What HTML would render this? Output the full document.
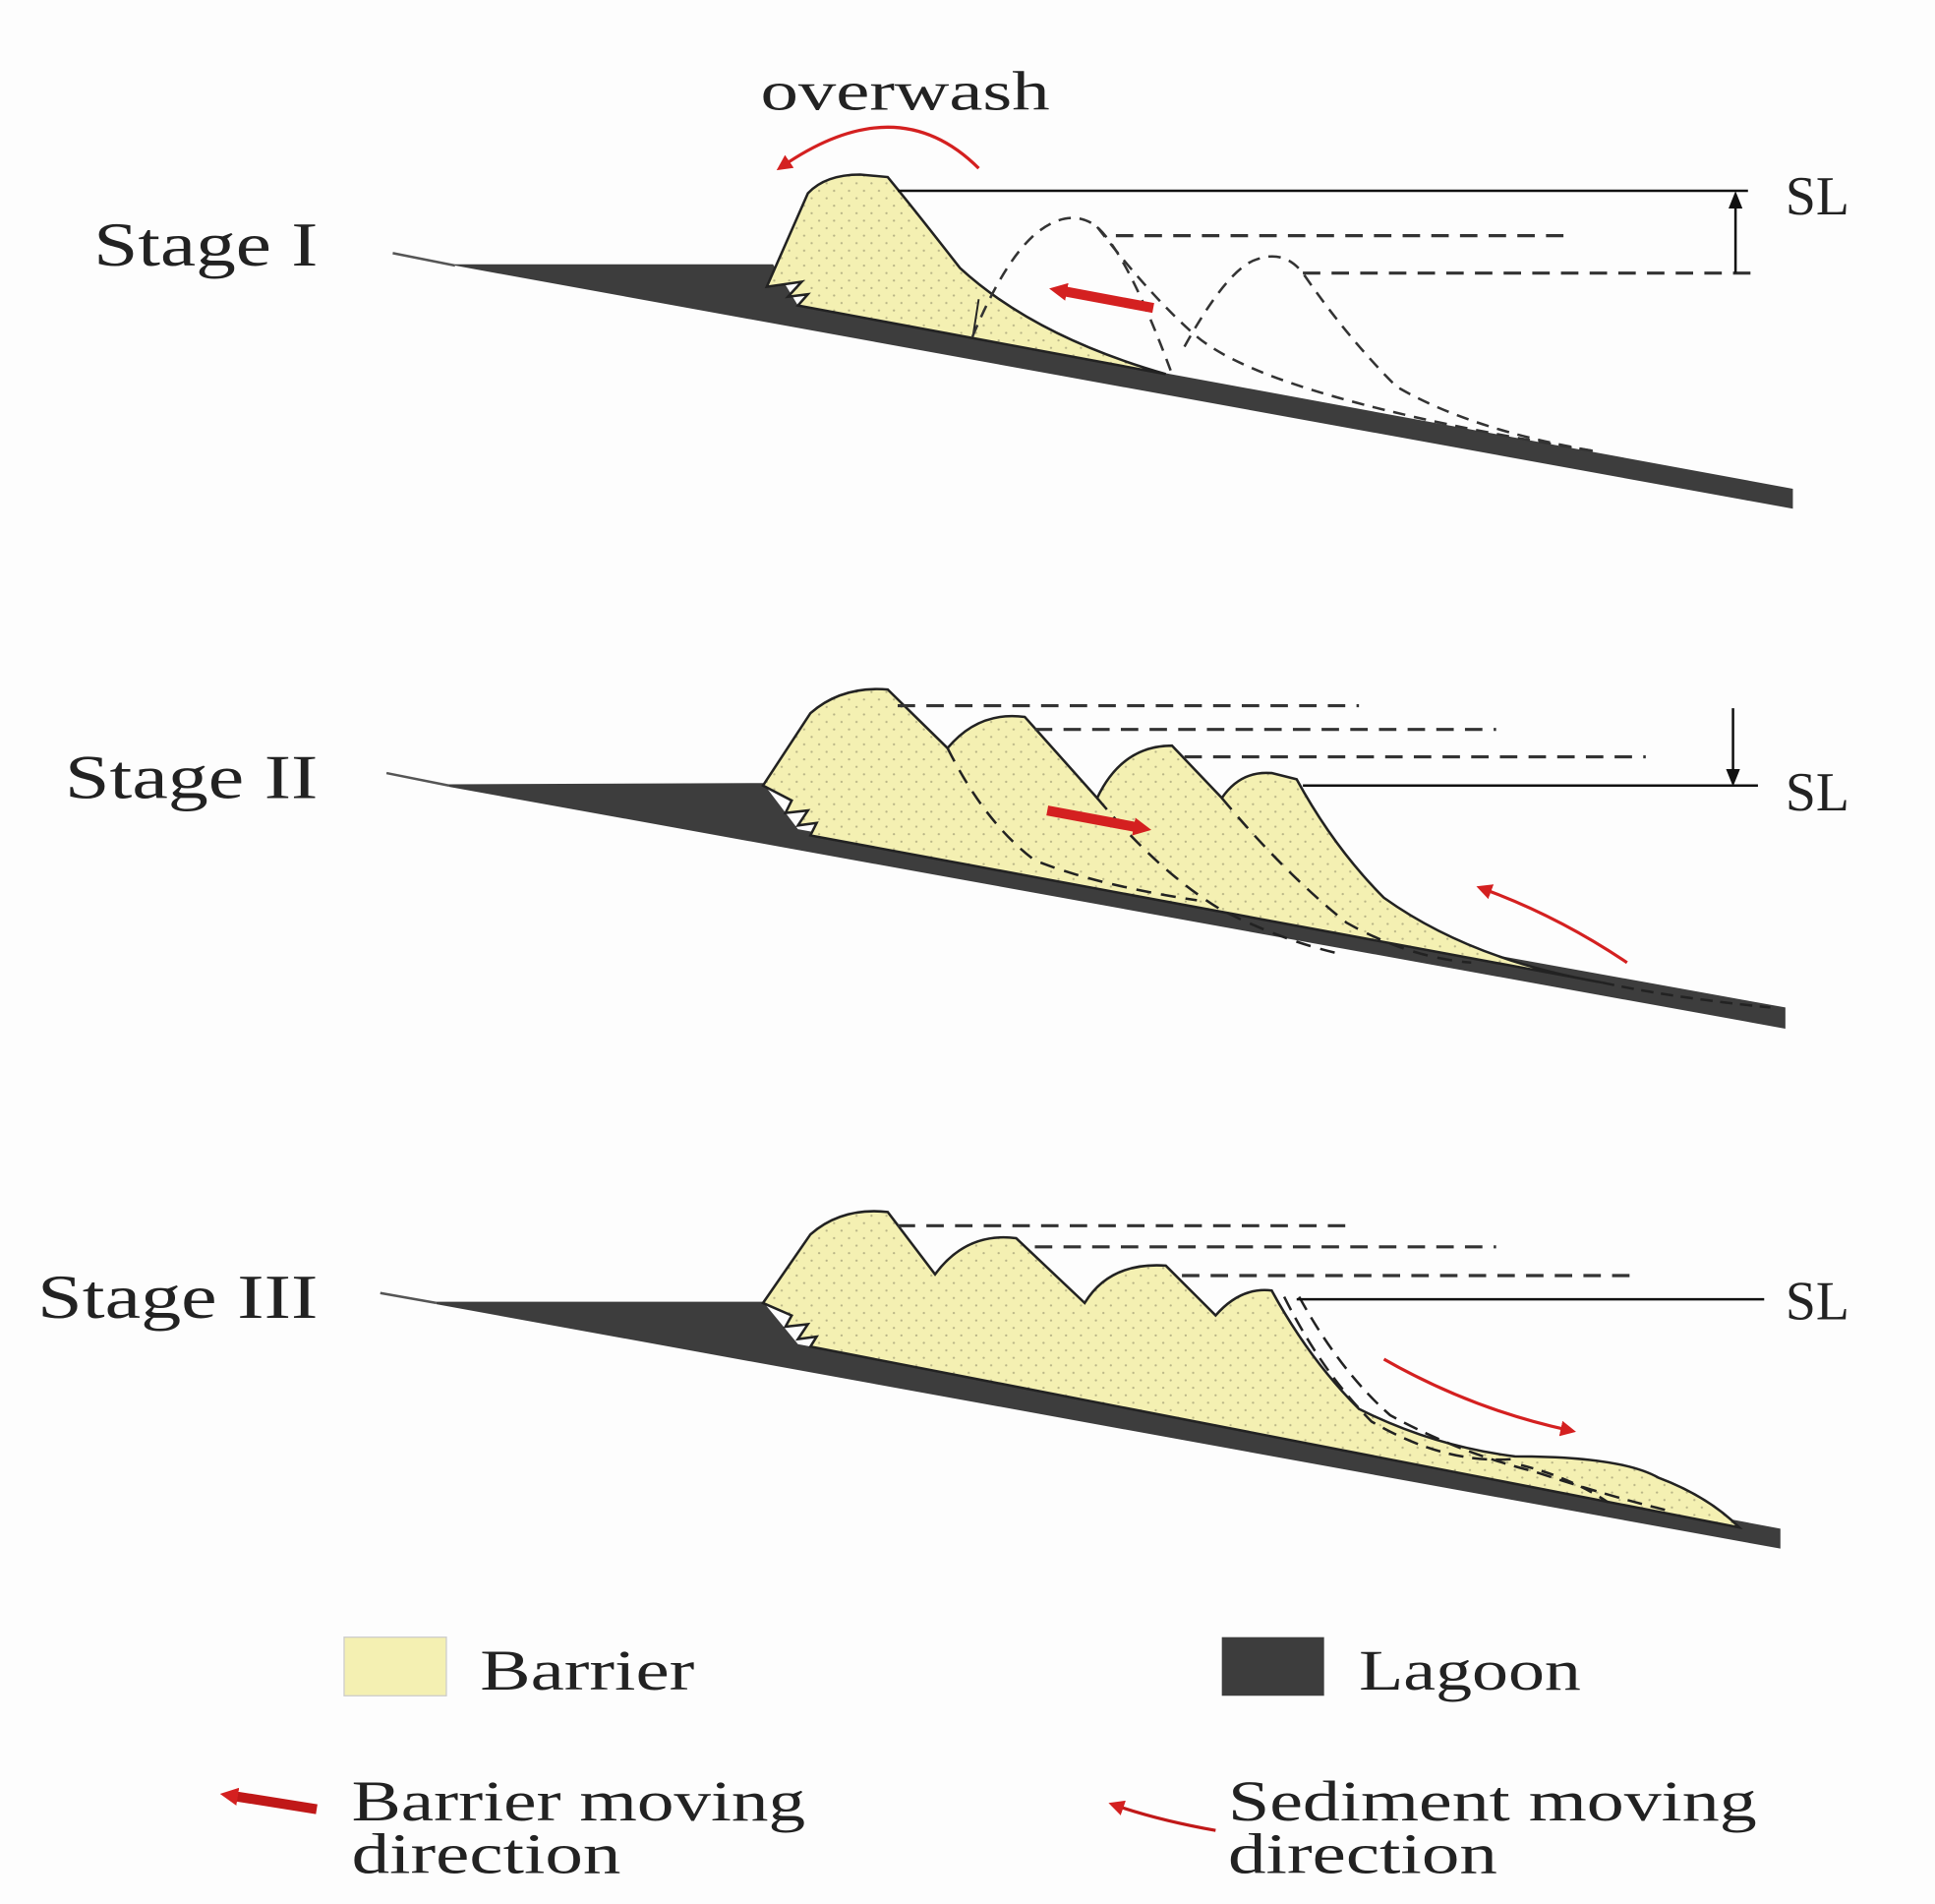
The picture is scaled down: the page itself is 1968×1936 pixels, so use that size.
<!DOCTYPE html>
<html><head><meta charset="utf-8"><style>html,body{margin:0;padding:0;background:#fdfdfd}svg{display:block}</style></head>
<body>
<svg width="1968" height="1936" viewBox="0 0 1552 1527" preserveAspectRatio="none" xmlns="http://www.w3.org/2000/svg" font-family="'Liberation Serif', serif" fill="#222">
<defs>
<pattern id="dots" width="12" height="12" patternUnits="userSpaceOnUse">
<rect width="12" height="12" fill="#f4f0b2"/><circle cx="3" cy="3" r="0.9" fill="#b8b486"/><circle cx="9" cy="9" r="0.9" fill="#b8b486"/>
</pattern>
<marker id="rh" viewBox="0 0 10 10" refX="5" refY="5" markerWidth="5" markerHeight="5" orient="auto-start-reverse"><path d="M0,0L10,5L0,10z" fill="#d42020"/></marker>
<marker id="rt" viewBox="0 0 10 10" refX="4" refY="5" markerWidth="1.8" markerHeight="1.8" orient="auto"><path d="M0,0L10,5L0,10z" fill="#d42020"/></marker>
<marker id="bh" viewBox="0 0 10 10" refX="8" refY="5" markerWidth="7" markerHeight="7" orient="auto"><path d="M0,1L10,5L0,9z" fill="#111"/></marker>
</defs>
<rect width="1552" height="1527" fill="#fdfdfd"/>

<!-- STAGE I -->
<text x="75" y="213" font-size="50" textLength="180" lengthAdjust="spacingAndGlyphs">Stage I</text>
<text x="610" y="88" font-size="44" textLength="232" lengthAdjust="spacingAndGlyphs">overwash</text>
<line x1="315" y1="203" x2="365" y2="213" stroke="#555" stroke-width="2"/>
<polygon points="365,212 620,212 640,245 1438,392 1438,408 365,213" fill="#3d3d3d"/>
<path d="M615,230 L648,155 Q662,140 690,140 L712,142 Q735,170 770,215 Q830,270 935,300 L640,245 L648,236 L632,238 L643,226 L615,230Z" fill="url(#dots)" stroke="#222" stroke-width="2"/>
<line x1="785" y1="240" x2="780" y2="272" stroke="#222" stroke-width="1.5"/>
<line x1="720" y1="153" x2="1402" y2="153" stroke="#111" stroke-width="2"/>
<text x="1432" y="172" font-size="44">SL</text>
<line x1="895" y1="189" x2="1255" y2="189" stroke="#333" stroke-width="2.5" stroke-dasharray="14,9"/>
<line x1="1045" y1="219" x2="1410" y2="219" stroke="#333" stroke-width="2.5" stroke-dasharray="14,9"/>
<line x1="1392" y1="219" x2="1392" y2="156" stroke="#111" stroke-width="2" marker-end="url(#bh)"/>
<path d="M780,270 Q805,210 830,188 Q858,165 880,182 Q905,205 940,300" fill="none" stroke="#333" stroke-width="2" stroke-dasharray="10,7"/>
<path d="M880,182 Q925,240 960,270 Q1020,320 1280,362" fill="none" stroke="#333" stroke-width="2" stroke-dasharray="10,7"/>
<path d="M950,278 Q985,215 1008,208 Q1030,200 1045,219 Q1080,270 1120,310 Q1180,345 1280,362" fill="none" stroke="#333" stroke-width="2" stroke-dasharray="10,7"/>
<line x1="925" y1="247" x2="850" y2="233" stroke="#d42020" stroke-width="8" marker-end="url(#rt)"/>
<path d="M785,135 Q720,70 628,133" fill="none" stroke="#d42020" stroke-width="2.5" marker-end="url(#rh)"/>

<!-- STAGE II -->
<text x="52" y="640" font-size="50" textLength="203" lengthAdjust="spacingAndGlyphs">Stage II</text>
<line x1="310" y1="620" x2="360" y2="630" stroke="#555" stroke-width="2"/>
<polygon points="360,629 612,628 640,665 1432,808 1432,825 360,631" fill="#3d3d3d"/>
<path d="M612,630 L650,572 Q675,550 712,553 L760,600 Q785,570 822,575 L880,640 Q900,598 940,598 L980,640 Q995,618 1020,620 L1040,625 Q1070,680 1110,720 Q1180,770 1285,788 L650,670 L655,660 L640,662 L648,650 L630,652 L635,642 Z" fill="url(#dots)" stroke="#222" stroke-width="2"/>
<path d="M760,600 Q790,660 830,690 Q880,710 960,722" fill="none" stroke="#222" stroke-width="2" stroke-dasharray="12,8"/>
<path d="M880,640 Q930,700 980,730 Q1030,755 1075,765" fill="none" stroke="#222" stroke-width="2" stroke-dasharray="12,8"/>
<path d="M980,640 Q1030,700 1080,740 Q1130,768 1180,772" fill="none" stroke="#222" stroke-width="2" stroke-dasharray="12,8"/>
<path d="M1285,788 Q1340,800 1420,808" fill="none" stroke="#222" stroke-width="2" stroke-dasharray="10,6"/>
<line x1="720" y1="566" x2="1090" y2="566" stroke="#333" stroke-width="2.5" stroke-dasharray="14,9"/>
<line x1="830" y1="585" x2="1200" y2="585" stroke="#333" stroke-width="2.5" stroke-dasharray="14,9"/>
<line x1="950" y1="607" x2="1320" y2="607" stroke="#333" stroke-width="2.5" stroke-dasharray="14,9"/>
<line x1="1045" y1="630" x2="1410" y2="630" stroke="#111" stroke-width="2"/>
<text x="1432" y="650" font-size="44">SL</text>
<line x1="1390" y1="568" x2="1390" y2="628" stroke="#111" stroke-width="2" marker-end="url(#bh)"/>
<line x1="840" y1="650" x2="915" y2="664" stroke="#d42020" stroke-width="8" marker-end="url(#rt)"/>
<path d="M1305,772 Q1250,735 1190,713" fill="none" stroke="#d42020" stroke-width="2.5" marker-end="url(#rh)"/>

<!-- STAGE III -->
<text x="30" y="1057" font-size="50" textLength="225" lengthAdjust="spacingAndGlyphs">Stage III</text>
<line x1="305" y1="1037" x2="350" y2="1045" stroke="#555" stroke-width="2"/>
<polygon points="350,1044 612,1044 640,1078 1428,1226 1428,1242 350,1046" fill="#3d3d3d"/>
<path d="M612,1045 L650,990 Q675,968 712,972 L750,1022 Q775,988 815,993 L870,1045 Q890,1012 935,1015 L975,1055 Q995,1032 1020,1035 Q1050,1090 1090,1130 Q1150,1160 1215,1168 Q1300,1168 1330,1185 Q1370,1200 1395,1225 L650,1080 L655,1072 L640,1074 L648,1062 L630,1064 L635,1055 Z" fill="url(#dots)" stroke="#222" stroke-width="2"/>
<path d="M1030,1040 Q1060,1100 1100,1140 Q1160,1175 1215,1170" fill="none" stroke="#222" stroke-width="2" stroke-dasharray="12,7"/>
<path d="M1042,1040 Q1075,1100 1115,1135 Q1170,1165 1230,1180 Q1290,1200 1340,1212" fill="none" stroke="#222" stroke-width="2" stroke-dasharray="12,7"/>
<path d="M1220,1175 Q1260,1185 1290,1205" fill="none" stroke="#222" stroke-width="2" stroke-dasharray="10,7"/>
<line x1="720" y1="983" x2="1085" y2="983" stroke="#333" stroke-width="2.5" stroke-dasharray="14,9"/>
<line x1="830" y1="1000" x2="1200" y2="1000" stroke="#333" stroke-width="2.5" stroke-dasharray="14,9"/>
<line x1="948" y1="1023" x2="1315" y2="1023" stroke="#333" stroke-width="2.5" stroke-dasharray="14,9"/>
<line x1="1040" y1="1042" x2="1415" y2="1042" stroke="#111" stroke-width="2"/>
<text x="1432" y="1058" font-size="44">SL</text>
<path d="M1110,1090 Q1180,1130 1258,1147" fill="none" stroke="#d42020" stroke-width="2.5" marker-end="url(#rh)"/>

<!-- LEGEND -->
<rect x="276" y="1313" width="82" height="47" fill="#f4f0b2" stroke="#ccc" stroke-width="1"/>
<text x="385" y="1355" font-size="46" textLength="172" lengthAdjust="spacingAndGlyphs">Barrier</text>
<rect x="980" y="1313" width="82" height="47" fill="#3d3d3d"/>
<text x="1090" y="1355" font-size="46" textLength="178" lengthAdjust="spacingAndGlyphs">Lagoon</text>
<line x1="254" y1="1451" x2="185" y2="1440" stroke="#c01818" stroke-width="8" marker-end="url(#rt)"/>
<text x="282" y="1460" font-size="46" textLength="364" lengthAdjust="spacingAndGlyphs">Barrier moving</text>
<text x="282" y="1502" font-size="46" textLength="216" lengthAdjust="spacingAndGlyphs">direction</text>
<path d="M975,1468 Q930,1460 895,1448" fill="none" stroke="#c01818" stroke-width="2.5" marker-end="url(#rh)"/>
<text x="985" y="1460" font-size="46" textLength="424" lengthAdjust="spacingAndGlyphs">Sediment moving</text>
<text x="985" y="1502" font-size="46" textLength="216" lengthAdjust="spacingAndGlyphs">direction</text>
</svg>
</body></html>
